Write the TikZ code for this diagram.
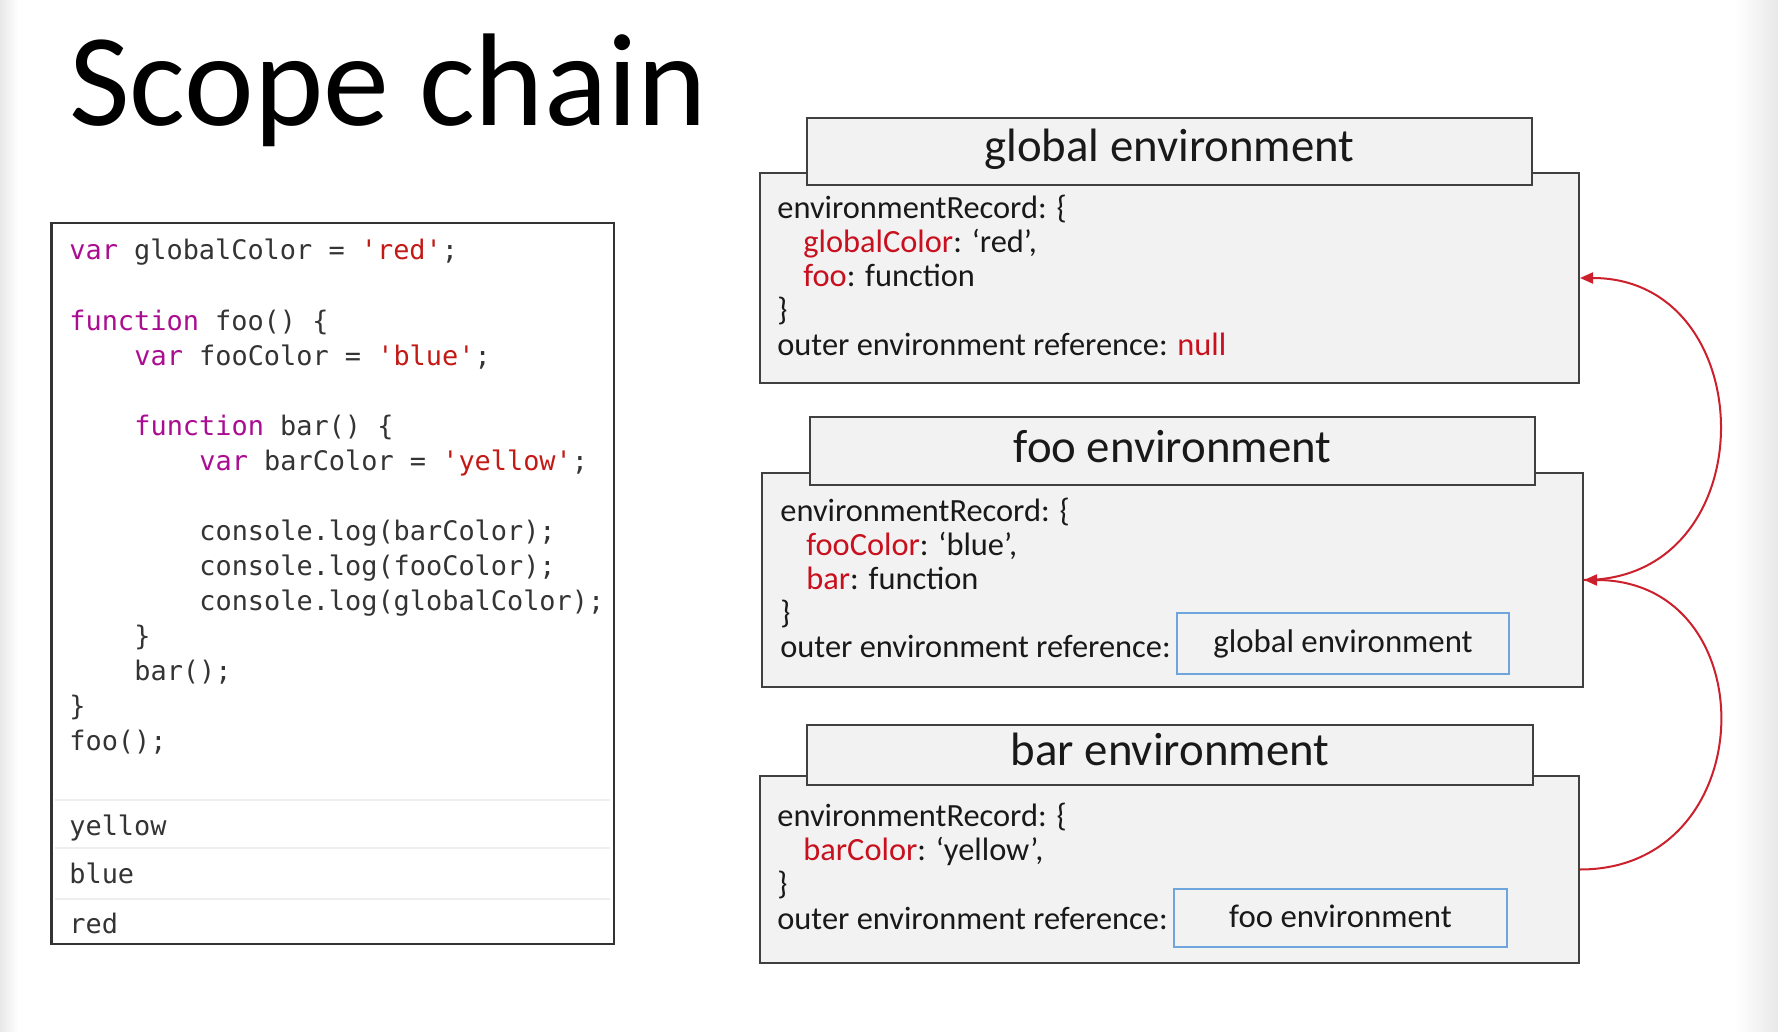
\documentclass[tikz,border=0pt]{standalone}
\usepackage{fontspec}
\usetikzlibrary{arrows.meta}
\newfontfamily\bodyfont{Carlito}
\newfontfamily\codefont{DejaVu Sans Mono}[Ligatures=TeXOff]
\definecolor{kwc}{RGB}{170,13,145}
\definecolor{strc}{RGB}{196,26,22}
\definecolor{plainc}{RGB}{52,52,52}
\definecolor{keyred}{RGB}{200,16,30}
\definecolor{arrred}{RGB}{204,32,44}
\definecolor{boxgray}{RGB}{242,242,242}
\definecolor{edgegray}{RGB}{64,64,64}
\definecolor{refblue}{RGB}{110,165,220}
\definecolor{sepc}{RGB}{238,238,238}
\definecolor{shadowc}{RGB}{232,232,232}
\newcommand\kw[1]{\textcolor{kwc}{#1}}
\newcommand\jsstr[1]{\textcolor{strc}{#1}}
\newcommand\rk[1]{\textcolor{keyred}{#1}}
\begin{document}
\begin{tikzpicture}[x=0.5pt,y=-0.5pt,
  codeline/.style={anchor=base west, inner sep=0pt, font=\codefont\fontsize{13.45}{16}\selectfont, text=plainc},
  bodyline/.style={anchor=base west, inner sep=0pt, font=\bodyfont\fontsize{16.2}{18}\selectfont, text=black!90},
  headtext/.style={anchor=base, inner sep=0pt, font=\bodyfont\fontsize{23.4}{26}\selectfont, text=black!90},
  reftext/.style={anchor=base, inner sep=0pt, font=\bodyfont\fontsize{16.4}{18}\selectfont, text=black!90},
  envbody/.style={draw=edgegray, line width=1pt, fill=boxgray, inner sep=0pt},
  envhead/.style={draw=edgegray, line width=1pt, fill=boxgray, inner sep=0pt},
  refbox/.style={draw=refblue, line width=0.8pt, fill=boxgray, inner sep=0pt},
  codebox/.style={draw=black!80, line width=1.3pt, fill=white, inner sep=0pt},
  sepline/.style={draw=sepc, line width=0.8pt},
  chainarrow/.style={draw=arrred, line width=1pt, -{Triangle[length=6.5pt,width=5.5pt]}}
]
\useasboundingbox (0,0) rectangle (1778,1032);
\fill[white] (0,0) rectangle (1778,1032);
\shade[left color=shadowc, right color=white] (0,0) rectangle (18,1032);
\shade[left color=white, right color=shadowc] (1735,0) rectangle (1778,1032);

% title
\node (title) [anchor=base west, inner sep=0pt, font=\bodyfont\fontsize{66}{70}\selectfont] at (69,126) {Scope chain};

% code box
\node (code) [codebox, minimum width=281.25pt, minimum height=360.5pt] at (332.75,583.5) {};
\draw[sepline] (55,800) -- (610,800);
\draw[sepline] (55,848) -- (610,848);
\draw[sepline] (55,899) -- (610,899);
\node (c1)  [codeline] at (69,260) {\kw{var} globalColor = \jsstr{'red'};};
\node (c3)  [codeline] at (69,330) {\kw{function} foo() \{};
\node (c4)  [codeline] at (134,365) {\kw{var} fooColor = \jsstr{'blue'};};
\node (c6)  [codeline] at (134,435) {\kw{function} bar() \{};
\node (c7)  [codeline] at (199,470) {\kw{var} barColor = \jsstr{'yellow'};};
\node (c9)  [codeline] at (199,540) {console.log(barColor);};
\node (c10) [codeline] at (199,575) {console.log(fooColor);};
\node (c11) [codeline] at (199,610) {console.log(globalColor);};
\node (c12) [codeline] at (134,645) {\}};
\node (c13) [codeline] at (134,680) {bar();};
\node (c14) [codeline] at (69,715) {\}};
\node (c15) [codeline] at (69,750) {foo();};
\node (o1)  [codeline] at (69,835) {yellow};
\node (o2)  [codeline] at (69,883) {blue};
\node (o3)  [codeline] at (69,933) {red};

% global environment
\node (gbody) [envbody, minimum width=409.5pt, minimum height=105pt] at (1169.5,278) {};
\node (ghead) [envhead, minimum width=362.5pt, minimum height=33.5pt] at (1169.5,151.5) {};
\node (ghtext) [headtext] at (1169.5,162) {global environment};
\node (g1) [bodyline] at (777,219) {environmentRecord: \{};
\node (g2) [bodyline] at (803,253) {\rk{globalColor}: ‘red’,};
\node (g3) [bodyline] at (803,287) {\rk{foo}: function};
\node (g4) [bodyline] at (777,321) {\}};
\node (g5) [bodyline] at (777,356) {outer environment reference: \rk{null}};

% foo environment
\node (fbody) [envbody, minimum width=410.5pt, minimum height=107pt] at (1172.5,580) {};
\node (fhead) [envhead, minimum width=362.5pt, minimum height=34pt] at (1172.5,451) {};
\node (fhtext) [headtext] at (1172.5,462) {foo environment};
\node (f1) [bodyline] at (780,521) {environmentRecord: \{};
\node (f2) [bodyline] at (806,555) {\rk{fooColor}: ‘blue’,};
\node (f3) [bodyline] at (806,589) {\rk{bar}: function};
\node (f4) [bodyline] at (780,623) {\}};
\node (f5) [bodyline] at (780,657) {outer environment reference:};
\node (fref) [refbox, minimum width=166pt, minimum height=30.5pt] at (1343,643.5) {};
\node (freftext) [reftext] at (1343,652) {global environment};

% bar environment
\node (bbody) [envbody, minimum width=409.5pt, minimum height=93.5pt] at (1169.5,869.5) {};
\node (bhead) [envhead, minimum width=363pt, minimum height=30pt] at (1170,755) {};
\node (bhtext) [headtext] at (1170,765) {bar environment};
\node (b1) [bodyline] at (777,826) {environmentRecord: \{};
\node (b2) [bodyline] at (803,860) {\rk{barColor}: ‘yellow’,};
\node (b3) [bodyline] at (777,894) {\}};
\node (b4) [bodyline] at (777,929) {outer environment reference:};
\node (bref) [refbox, minimum width=166.5pt, minimum height=29pt] at (1340.5,918) {};
\node (breftext) [reftext] at (1340.5,927) {foo environment};

% scope chain arrows
\draw[chainarrow] (bbody.east) to[out=0, in=0, looseness=1.62] (fbody.east);
\draw[chainarrow] (fbody.east) to[out=0, in=0, looseness=1.55] (gbody.east);
\end{tikzpicture}
\end{document}
